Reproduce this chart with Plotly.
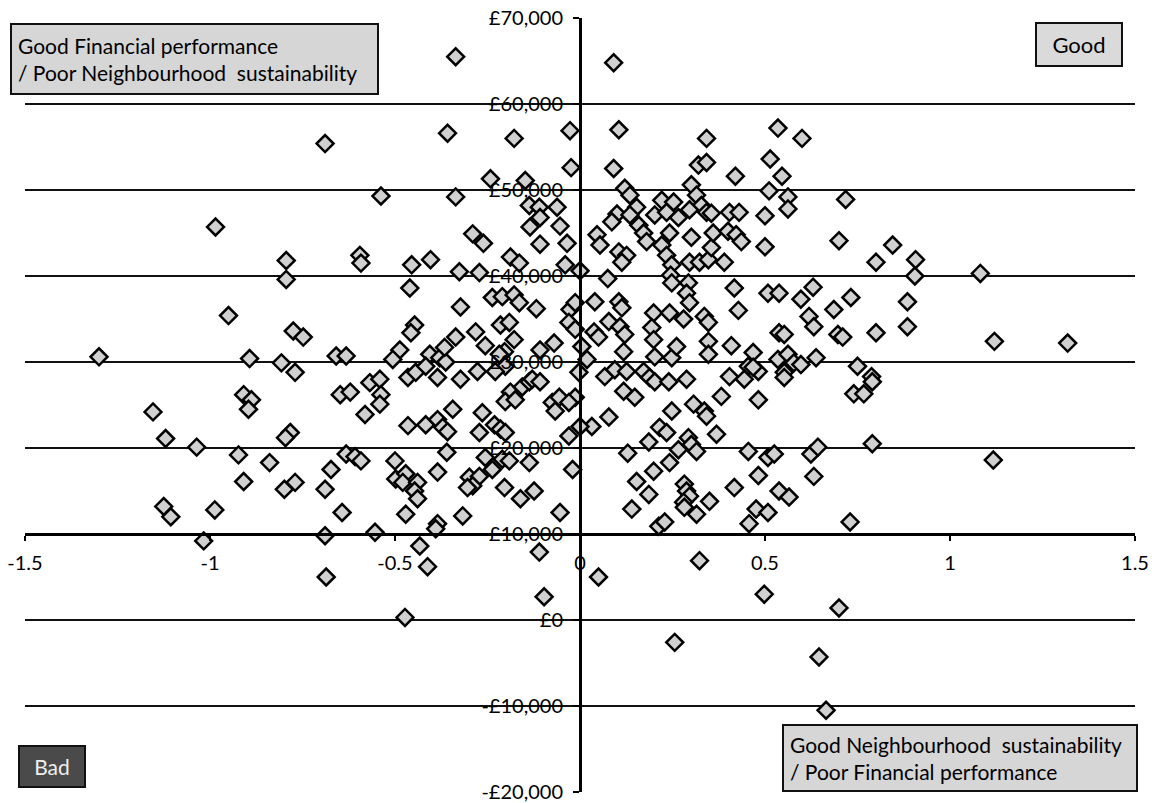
import plotly.graph_objects as go

# Neighbourhood sustainability score (x) against financial performance in £ (y)
sustainability = [
    -1.30, -1.154, -1.12, -1.125, -1.106, -1.036, -1.017, -0.985, -0.987, -0.95,
    -0.794, -0.794, -0.893, -0.807, -0.77, -0.775, -0.748, -0.909, -0.888, -0.896,
    -0.783, -0.796, -0.923, -0.839, -0.909, -0.77, -0.799,
    -0.336, -0.689, -0.358, -0.178, -0.027, -0.024, -0.538, -0.336, -0.242,
    -0.148, -0.137, -0.11, -0.108, -0.062, -0.135, -0.054, -0.108, -0.035, -0.29,
    -0.261, -0.188, -0.164, -0.595, -0.592, -0.455, -0.404, -0.326, -0.272, -0.04,
    0.0,
    0.091, 0.105, 0.091, 0.342, 0.535, 0.60, 0.514, 0.546, 0.42, 0.32,
    0.342, 0.511, 0.562, 0.562, 0.718, 0.50, 0.50, 0.70, 0.121, 0.135,
    0.153, 0.10, 0.086, 0.135, 0.159, 0.172, 0.18, 0.046, 0.054, 0.105,
    0.126, 0.113, 0.075, 0.221, 0.253, 0.202, 0.234, 0.266, 0.242, 0.221,
    0.234, 0.248, 0.245, 0.301, 0.315, 0.328, 0.342, 0.355, 0.296, 0.301,
    0.296, 0.323, 0.347, 0.355, 0.36, 0.39, 0.404, 0.43, 0.40, 0.422, 0.436,
    0.845, 0.80, 0.907, 0.905, 1.082, 0.732, 0.885, 0.885, 0.80, 1.12,
    1.318, 0.75, 0.788, 0.79, 0.74, 0.767, 0.79, 1.117, 0.73,
    0.04, 0.105, 0.113, 0.038, 0.05, 0.078, 0.108, 0.121, 0.118, 0.005,
    0.019, -0.003, 0.067, 0.094, 0.126, 0.172, 0.188, 0.202, 0.24, 0.288,
    0.118, 0.148, -0.013, 0.078, 0.032, 0.0, 0.199, 0.194, 0.199, 0.202,
    0.242, 0.28, 0.248, 0.261, 0.248, 0.293, 0.288, 0.296, 0.336, 0.347,
    0.347, 0.347, 0.417, 0.428, 0.409, 0.508, 0.538, 0.597, 0.63, 0.619,
    0.632, 0.686, 0.538, 0.552, 0.697, 0.71, 0.468, 0.535, 0.562, 0.578,
    0.552, 0.597, 0.552, 0.638, 0.455, 0.482, 0.444, 0.468, 0.404, 0.382,
    0.482, 0.248, 0.307, 0.336, 0.342, 0.215, 0.234, 0.186, 0.293, 0.301,
    0.315, 0.266, 0.369, 0.129, 0.242, 0.199, 0.153, 0.186, 0.14, 0.282,
    0.288, 0.296, 0.28, 0.282, 0.315, 0.35, 0.213, 0.229, 0.417, 0.455,
    0.508, 0.525, 0.482, 0.476, 0.508, 0.457, 0.538, 0.565, 0.624, 0.643,
    0.632, -0.02,
    -0.46, -0.323, -0.237, -0.21, -0.178, -0.164, -0.118, -0.027, -0.03, -0.013,
    -0.447, -0.457, -0.336, -0.282, -0.256, -0.215, -0.191, -0.178, -0.204, -0.218,
    -0.108, -0.07, -0.659, -0.632, -0.487, -0.506, -0.406, -0.379, -0.363, -0.366,
    -0.465, -0.444, -0.417, -0.385, -0.323, -0.277, -0.202, -0.229, -0.188, -0.202,
    -0.175, -0.156, -0.137, -0.129, -0.108, -0.075, -0.056, -0.03, -0.067, -0.03,
    -0.568, -0.541, -0.648, -0.621, -0.538, -0.541, -0.581, -0.465, -0.417, -0.385,
    -0.371, -0.358, -0.344, -0.264, -0.272, -0.231, -0.215, -0.202, -0.632, -0.608,
    -0.592, -0.673, -0.689, -0.643, -0.50, -0.498, -0.471, -0.479, -0.439, -0.447,
    -0.439, -0.471, -0.385, -0.385, -0.36, -0.317, -0.299, -0.272, -0.29, -0.304,
    -0.256, -0.237, -0.21, -0.191, -0.137, -0.204, -0.161, -0.124, -0.054, -0.689,
    -0.554, -0.013, -0.39,
    -0.686, -0.433, -0.412, -0.473, -0.11, -0.097, 0.05, 0.323, 0.498, 0.70,
    0.256, 0.646, 0.665,
]

financial = [
    30600, 24200, 21100, 13200, 12000, 20100, 9200, 45700, 12800, 35400,
    41800, 39600, 30400, 29900, 28800, 33600, 32900, 26200, 25600, 24500,
    21800, 21200, 19200, 18300, 16100, 16000, 15200,
    65500, 55400, 56600, 56000, 56900, 52600, 49300, 49200, 51300,
    51100, 48200, 48000, 46800, 48000, 45700, 45800, 43700, 43800, 44900,
    43800, 42200, 41500, 42400, 41500, 41300, 41900, 40500, 40400, 41300,
    40600,
    64800, 57000, 52500, 56000, 57200, 56000, 53600, 51600, 51600, 52900,
    53200, 49900, 49200, 47800, 48900, 47000, 43400, 44100, 50200, 49400,
    48000, 47200, 46300, 47100, 45900, 45000, 44000, 44800, 43600, 42800,
    42400, 41600, 39700, 48800, 48600, 47100, 47400, 46800, 45000, 43600,
    42400, 41300, 40100, 50600, 49400, 48200, 47400, 47300, 47700, 44500,
    41600, 41600, 41900, 43300, 45000, 41600, 47400, 47400, 45200, 44800, 44000,
    43600, 41600, 41900, 40000, 40300, 37500, 37000, 34100, 33400, 32400,
    32200, 29500, 28300, 27700, 26300, 26300, 20500, 18600, 11400,
    37000, 37000, 36300, 33500, 32900, 34700, 34100, 33200, 31200, 31800,
    30300, 28800, 28300, 29100, 28900, 28900, 28200, 27700, 27700, 28000,
    26600, 25900, 25900, 23600, 22500, 22500, 35700, 34000, 32600, 30600,
    35700, 35000, 30500, 31800, 39200, 39200, 38000, 36900, 35300, 34600,
    32400, 30900, 38600, 36000, 31900, 38000, 38000, 37300, 38700, 35300,
    34100, 36100, 33400, 33200, 33200, 32900, 31100, 30300, 30900, 29900,
    28800, 29700, 28200, 30500, 29500, 28900, 28000, 29400, 28300, 26000,
    25600, 24300, 25100, 24300, 23700, 22400, 21800, 20700, 21200, 20400,
    19600, 19800, 21600, 19400, 18300, 17300, 16100, 14600, 12900, 15800,
    15000, 14400, 13700, 13100, 12300, 13800, 10900, 11400, 15400, 19600,
    18900, 19300, 16800, 12900, 12500, 11200, 15000, 14300, 19300, 20100,
    16700, 17500,
    38600, 36400, 37500, 37600, 37800, 36900, 36200, 36100, 34600, 33800,
    34300, 33400, 32900, 33500, 31900, 34300, 34600, 32600, 31200, 30900,
    31400, 32200, 30700, 30700, 31400, 30300, 30900, 30500, 30000, 31700,
    28200, 28800, 29500, 28200, 28000, 28900, 29500, 28900, 26500, 25400,
    25600, 27100, 27700, 28000, 27700, 25300, 25900, 25300, 24300, 21400,
    27600, 28000, 26200, 26500, 26200, 25100, 23900, 22600, 22700, 23300,
    22400, 21900, 24500, 24100, 21800, 22700, 22200, 21800, 19300, 19000,
    18500, 17500, 15200, 12500, 18500, 16400, 17000, 16000, 16000, 15000,
    14100, 12300, 17200, 11200, 19500, 12100, 16600, 16700, 15600, 15400,
    18900, 17500, 18700, 18500, 18300, 15400, 14100, 15000, 12500, 9800,
    10200, 36900, 10600,
    5000, 8600, 6200, 300, 7900, 2700, 5000, 6900, 3000, 1400,
    -2600, -4300, -10500,
]

x_ticks = [-1.5, -1, -0.5, 0, 0.5, 1, 1.5]
x_tick_labels = ["-1.5", "-1", "-0.5", "0", "0.5", "1", "1.5"]
y_ticks = [-20000, -10000, 0, 10000, 20000, 30000, 40000, 50000, 60000, 70000]
y_tick_labels = ["-£20,000", "-£10,000", "£0", "£10,000", "£20,000", "£30,000",
                 "£40,000", "£50,000", "£60,000", "£70,000"]

FONT = "Lato"

fig = go.Figure(
    go.Scatter(
        x=sustainability,
        y=financial,
        mode="markers",
        marker=dict(symbol="diamond", size=13, color="#d0d0d0",
                    line=dict(color="black", width=2.5)),
        hoverinfo="x+y",
    )
)

# plot area in pixels: left 25, right 1135, top 18, bottom 792
L, R, T, B = 25, 1135, 18, 792


def px_x(px):
    return (px - L) / (R - L)


def px_y(py):
    return (B - py) / (B - T)


def box(text, left, top, w, h, fill, color="black", align="left", size=21,
        pad=6):
    return dict(
        text=text, xref="paper", yref="paper", x=px_x(left), y=px_y(top),
        xanchor="left", yanchor="top", showarrow=False, align=align,
        valign="middle", width=w, height=h, bgcolor=fill,
        bordercolor="#111111", borderwidth=2, borderpad=pad,
        font=dict(family=FONT, size=size, color=color),
    )


annotations = [
    box("Good Financial performance<br>/ Poor Neighbourhood  sustainability",
        10, 23, 353, 56, "#d6d6d6"),
    box("Good", 1035, 22, 80, 37, "#dadada", align="center", size=22, pad=2),
    box("Good Neighbourhood  sustainability<br>/ Poor Financial performance",
        782, 724, 340, 52, "#d6d6d6"),
    box("Bad", 18, 745, 60, 35, "#4a4a4a", color="#eeeeee", align="center",
        size=21, pad=2),
]

tick_font = dict(family=FONT, size=20, color="black")

fig.update_layout(
    width=1160, height=803,
    margin=dict(l=L, r=1160 - R, t=T, b=803 - B, autoexpand=False),
    paper_bgcolor="white", plot_bgcolor="white",
    showlegend=False,
    font=dict(family=FONT, size=20, color="black"),
    annotations=annotations,
    xaxis=dict(
        range=[-1.5, 1.5], anchor="free", position=1 / 3, automargin=False,
        tickvals=x_ticks, ticktext=x_tick_labels,
        showgrid=False, zeroline=False,
        showline=True, linecolor="black", linewidth=3,
        ticks="outside", ticklen=5, tickwidth=2, tickcolor="black",
        ticklabelstandoff=5, ticklabeloverflow="allow",
        tickfont=tick_font,
    ),
    yaxis=dict(
        range=[-20000, 70000], anchor="free", position=0.5, side="left",
        automargin=False,
        tickvals=y_ticks, ticktext=y_tick_labels,
        showgrid=True, gridcolor="#111111", gridwidth=1.5,
        zeroline=False,
        showline=True, linecolor="black", linewidth=3,
        ticks="outside", ticklen=6, tickwidth=2, tickcolor="black",
        ticklabelstandoff=6, ticklabeloverflow="allow",
        tickfont=tick_font,
    ),
)

fig.write_html("out.html")
